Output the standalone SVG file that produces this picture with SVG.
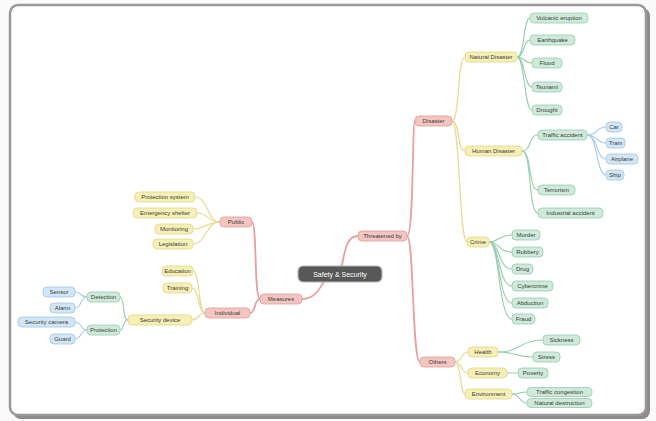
<svg xmlns="http://www.w3.org/2000/svg" width="656" height="421" viewBox="0 0 656 421">
  <style>
    text { font-family: "Liberation Sans", Arial, sans-serif; font-size: 6px; fill: #3a3a3a; text-anchor: middle; }
    rect { rx: 4; ry: 4; stroke-width: 0.8; }
    .n1 rect { fill: #f4c6c2; stroke: #e39a95; }
    .n2 rect { fill: #f6f0b6; stroke: #e2d585; }
    .n3 rect { fill: #cfeadb; stroke: #93cdad; }
    .n4 rect { fill: #d3e6f5; stroke: #9dc6e5; }
    .root rect { fill: #585858; stroke: #b4b4b4; stroke-width: 1.2; rx: 5; ry: 5; }
    .root text { fill: #ffffff; font-size: 7px; }
    #connectors path { fill: none; stroke-linecap: round; }
    .c1 { stroke: #e8a19c; stroke-width: 1.8; }
    .c2 { stroke: #e6db93; stroke-width: 1.2; }
    .c3 { stroke: #94cdae; stroke-width: 1.1; }
    .c4 { stroke: #a6cbe8; stroke-width: 1.1; }
  </style>

  <!-- page background and frame -->
  <rect x="0" y="0" width="656" height="421" fill="#fafafa" style="rx:0;ry:0;stroke:none"/>
  <rect x="13" y="8" width="637" height="411" fill="#8e8a8a" style="rx:8;ry:8;stroke:none"/>
  <rect x="10" y="5" width="636" height="410" fill="#ffffff" stroke="#9c9898" style="rx:8;ry:8;stroke-width:2.5"/>

  <g id="connectors">
    <!-- root branches -->
    <path class="c1" d="M336 274 C346 274 340 236 358 236"/>
    <path class="c1" d="M334 274 C322 274 322 299 302 299"/>
    <path class="c1" d="M407 236 C414 236 412 121 415 121"/>
    <path class="c1" d="M407 236 C414 236 412 362 420 362"/>
    <path class="c1" d="M260 299 C254 299 257 222 252 222"/>
    <path class="c1" d="M260 299 C254 299 256 313 250 313"/>

    <!-- second level -->
    <path class="c2" d="M452 121 C460 121 457 57 465 57"/>
    <path class="c2" d="M452 121 C460 121 457 151 465 151"/>
    <path class="c2" d="M452 121 C460 121 459 242 467 242"/>
    <path class="c2" d="M455 362 C462 362 461 352 468 352"/>
    <path class="c2" d="M455 362 C462 362 461 373 468 373"/>
    <path class="c2" d="M455 362 C461 362 460 394 465 394"/>
    <path class="c2" d="M220 222 C207 222 208 197 195 197"/>
    <path class="c2" d="M220 222 C207 222 209 213 197 213"/>
    <path class="c2" d="M220 222 C206 222 206 229 193 229"/>
    <path class="c2" d="M220 222 C206 222 206 244 193 244"/>
    <path class="c2" d="M205 313 C198 313 200 271 193 271"/>
    <path class="c2" d="M205 313 C198 313 199 288 192 288"/>
    <path class="c2" d="M205 313 C198 313 199 320 192 320"/>

    <!-- third level -->
    <path class="c3" d="M517 57 C525 57 523 18 530 18"/>
    <path class="c3" d="M517 57 C525 57 523 40 530 40"/>
    <path class="c3" d="M517 57 C525 57 524 63 532 63"/>
    <path class="c3" d="M517 57 C525 57 524 87 532 87"/>
    <path class="c3" d="M517 57 C525 57 524 110 532 110"/>
    <path class="c3" d="M522 151 C532 151 528 135 538 135"/>
    <path class="c3" d="M522 151 C532 151 528 190 538 190"/>
    <path class="c3" d="M522 151 C532 151 528 213 538 213"/>
    <path class="c3" d="M489 242 C500 242 498 235 512 235"/>
    <path class="c3" d="M489 242 C500 242 498 252 512 252"/>
    <path class="c3" d="M489 242 C500 242 498 269 512 269"/>
    <path class="c3" d="M489 242 C500 242 498 286 512 286"/>
    <path class="c3" d="M489 242 C500 242 498 303 512 303"/>
    <path class="c3" d="M489 242 C500 242 498 319 512 319"/>
    <path class="c3" d="M498 352 C520 352 520 340 543 340"/>
    <path class="c3" d="M498 352 C516 352 515 357 533 357"/>
    <path class="c3" d="M507 373 L518 373"/>
    <path class="c3" d="M512 394 C520 394 519 392 527 392"/>
    <path class="c3" d="M512 394 C520 394 519 403 527 403"/>
    <path class="c3" d="M128 320 C122 320 125 297 120 297"/>
    <path class="c3" d="M128 320 C122 320 125 330 120 330"/>

    <!-- fourth level -->
    <path class="c4" d="M587 135 C598 135 596 127 606 127"/>
    <path class="c4" d="M587 135 C598 135 596 143 606 143"/>
    <path class="c4" d="M587 135 C598 135 596 159 606 159"/>
    <path class="c4" d="M587 135 C598 135 596 175 606 175"/>
    <path class="c4" d="M87 297 C80 297 82 292 75 292"/>
    <path class="c4" d="M87 297 C80 297 82 308 75 308"/>
    <path class="c4" d="M87 330 C80 330 82 322 75 322"/>
    <path class="c4" d="M87 330 C80 330 82 339 75 339"/>
  </g>

  <!-- central topic -->
  <g id="root" class="root"><rect x="298" y="266" width="84" height="16"/><text x="340" y="276.5">Safety &amp; Security</text></g>

  <!-- right side -->
  <g id="threatened" class="n1"><rect x="358" y="231" width="49" height="10"/><text x="382.5" y="238">Threatened by</text></g>
  <g id="disaster" class="n1"><rect x="415" y="116" width="37" height="10"/><text x="433.5" y="123">Disaster</text></g>
  <g id="others" class="n1"><rect x="420" y="357" width="35" height="10"/><text x="437.5" y="364">Others</text></g>

  <g id="natural" class="n2"><rect x="465" y="52" width="52" height="10"/><text x="491" y="59">Natural Disaster</text></g>
  <g id="human" class="n2"><rect x="465" y="146" width="57" height="10"/><text x="493.5" y="153">Human Disaster</text></g>
  <g id="crime" class="n2"><rect x="467" y="237" width="22" height="10"/><text x="478" y="244">Crime</text></g>
  <g id="health" class="n2"><rect x="468" y="347" width="30" height="10"/><text x="483" y="354">Health</text></g>
  <g id="economy" class="n2"><rect x="468" y="368" width="39" height="10"/><text x="487.5" y="375">Economy</text></g>
  <g id="environment" class="n2"><rect x="465" y="389" width="47" height="10"/><text x="488.5" y="396">Environment</text></g>

  <g id="volcanic" class="n3"><rect x="530" y="13" width="58" height="10"/><text x="559" y="20">Volcanic eruption</text></g>
  <g id="earthquake" class="n3"><rect x="530" y="35" width="45" height="10"/><text x="552.5" y="42">Earthquake</text></g>
  <g id="flood" class="n3"><rect x="532" y="58" width="30" height="10"/><text x="547" y="65">Flood</text></g>
  <g id="tsunami" class="n3"><rect x="532" y="82" width="30" height="10"/><text x="547" y="89">Tsunami</text></g>
  <g id="drought" class="n3"><rect x="532" y="105" width="30" height="10"/><text x="547" y="112">Drought</text></g>
  <g id="traffic" class="n3"><rect x="538" y="130" width="49" height="10"/><text x="562.5" y="137">Traffic accident</text></g>
  <g id="terrorism" class="n3"><rect x="538" y="185" width="37" height="10"/><text x="556.5" y="192">Terrorism</text></g>
  <g id="industrial" class="n3"><rect x="538" y="208" width="65" height="10"/><text x="570.5" y="215">Industrial accident</text></g>
  <g id="murder" class="n3"><rect x="512" y="230" width="28" height="10"/><text x="526" y="237">Murder</text></g>
  <g id="robbery" class="n3"><rect x="512" y="247" width="31" height="10"/><text x="527.5" y="254">Robbery</text></g>
  <g id="drug" class="n3"><rect x="512" y="264" width="21" height="10"/><text x="522.5" y="271">Drug</text></g>
  <g id="cybercrime" class="n3"><rect x="512" y="281" width="41" height="10"/><text x="532.5" y="288">Cybercrime</text></g>
  <g id="abduction" class="n3"><rect x="512" y="298" width="36" height="10"/><text x="530" y="305">Abduction</text></g>
  <g id="fraud" class="n3"><rect x="512" y="314" width="23" height="10"/><text x="523.5" y="321">Fraud</text></g>
  <g id="sickness" class="n3"><rect x="543" y="335" width="37" height="10"/><text x="561.5" y="342">Sickness</text></g>
  <g id="stress" class="n3"><rect x="533" y="352" width="27" height="10"/><text x="546.5" y="359">Stress</text></g>
  <g id="poverty" class="n3"><rect x="518" y="368" width="30" height="10"/><text x="533" y="375">Poverty</text></g>
  <g id="congestion" class="n3"><rect x="527" y="387.5" width="65" height="9"/><text x="559.5" y="394">Traffic congestion</text></g>
  <g id="destruction" class="n3"><rect x="527" y="398.5" width="65" height="9"/><text x="559.5" y="405">Natural destruction</text></g>

  <g id="car" class="n4"><rect x="606" y="122" width="16" height="10"/><text x="614" y="129">Car</text></g>
  <g id="train" class="n4"><rect x="606" y="138" width="19" height="10"/><text x="615.5" y="145">Train</text></g>
  <g id="airplane" class="n4"><rect x="606" y="154" width="32" height="10"/><text x="622" y="161">Airplane</text></g>
  <g id="ship" class="n4"><rect x="606" y="170" width="18" height="10"/><text x="615" y="177">Ship</text></g>

  <!-- left side -->
  <g id="measures" class="n1"><rect x="260" y="294" width="42" height="10"/><text x="281" y="301">Measures</text></g>
  <g id="public" class="n1"><rect x="220" y="217" width="32" height="10"/><text x="236" y="224">Public</text></g>
  <g id="individual" class="n1"><rect x="205" y="308" width="45" height="10"/><text x="227.5" y="315">Individual</text></g>

  <g id="protection-system" class="n2"><rect x="135" y="192" width="60" height="10"/><text x="165" y="199">Protection system</text></g>
  <g id="emergency-shelter" class="n2"><rect x="133" y="208" width="64" height="10"/><text x="165" y="215">Emergency shelter</text></g>
  <g id="monitoring" class="n2"><rect x="155" y="224" width="38" height="10"/><text x="174" y="231">Monitoring</text></g>
  <g id="legislation" class="n2"><rect x="153" y="239" width="40" height="10"/><text x="173" y="246">Legislation</text></g>
  <g id="education" class="n2"><rect x="162" y="266" width="31" height="10"/><text x="177.5" y="273">Education</text></g>
  <g id="training" class="n2"><rect x="163" y="283" width="29" height="10"/><text x="177.5" y="290">Training</text></g>
  <g id="security-device" class="n2"><rect x="128" y="315" width="64" height="10"/><text x="160" y="322">Security device</text></g>

  <g id="detection" class="n3"><rect x="87" y="292" width="33" height="10"/><text x="103.5" y="299">Detection</text></g>
  <g id="protection" class="n3"><rect x="87" y="325" width="33" height="10"/><text x="103.5" y="332">Protection</text></g>

  <g id="sensor" class="n4"><rect x="43" y="287" width="32" height="10"/><text x="59" y="294">Sensor</text></g>
  <g id="alarm" class="n4"><rect x="50" y="303" width="25" height="10"/><text x="62.5" y="310">Alarm</text></g>
  <g id="camera" class="n4"><rect x="18" y="317" width="57" height="10"/><text x="46.5" y="324">Security camera</text></g>
  <g id="guard" class="n4"><rect x="50" y="334" width="25" height="10"/><text x="62.5" y="341">Guard</text></g>
</svg>
